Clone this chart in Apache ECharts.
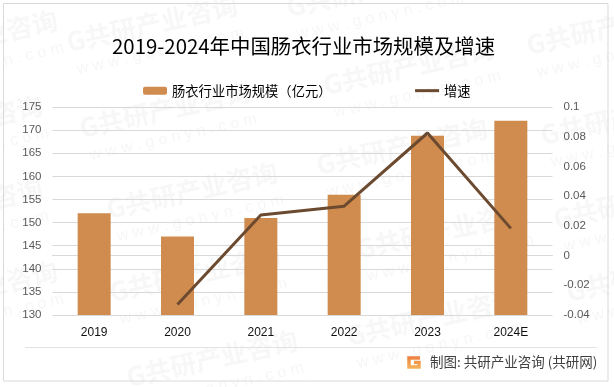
<!DOCTYPE html>
<html>
<head>
<meta charset="utf-8">
<title>2019-2024年中国肠衣行业市场规模及增速</title>
<script src="https://cdn.jsdelivr.net/npm/echarts@6/dist/echarts.min.js"></script>
<style>
html, body { margin: 0; padding: 0; background: #fff; }
#main { width: 614px; height: 387px; }
</style>
</head>
<body>
<div id="main"></div>
<script>
var categories = ["2019", "2020", "2021", "2022", "2023", "2024E"];
var sizeValues = [152, 147, 151, 156, 168.8, 172];
var growthValues = [null, -0.033, 0.0273, 0.0332, 0.0825, 0.0183];
var sizeName = "肠衣行业市场规模（亿元）";
var growthName = "增速";
var fontCn = '"Noto Sans CJK SC", sans-serif';
var fontNum = '"Liberation Sans", sans-serif';

// 水印起点
var markStarts = [
  [-110, 72], [70, 57], [290, 22], [530, 60],
  [-125, 157], [83, 143], [327, 100], [544, 150],
  [-125, 240], [110, 224], [320, 180], [557, 234],
  [-110, 323], [113, 307], [360, 264], [570, 307],
  [130, 392], [350, 351]
];

function watermark() {
  var list = [];
  markStarts.forEach(function (p) {
    list.push({
      type: "group",
      x: p[0],
      y: p[1],
      rotation: 12.5 * Math.PI / 180,
      silent: true,
      z: 50,
      children: [
        { type: "text", style: { x: 0, y: -28, text: "G共研产业咨询", fill: "rgba(110,110,110,0.055)", font: 'bold 26px ' + fontCn } },
        { type: "text", style: { x: 4, y: 6, text: "w w w . g o n y n . c o m", fill: "rgba(110,110,110,0.06)", font: '16px ' + fontNum } }
      ]
    });
  });
  return list;
}

var chart = echarts.init(document.getElementById("main"));
chart.setOption({
  animation: false,
  backgroundColor: "#fff",
  title: {
    text: "2019-2024年中国肠衣行业市场规模及增速",
    left: 107,
    top: 31,
    textStyle: { fontFamily: fontCn, fontSize: 20.4, fontWeight: "normal", color: "#000" }
  },
  legend: {
    left: 138,
    top: 79,
    itemWidth: 24,
    itemHeight: 8,
    itemGap: 82,
    textStyle: { fontFamily: fontCn, fontSize: 13.3, color: "#000" },
    data: [sizeName, { name: growthName, itemStyle: { opacity: 0 }, lineStyle: { width: 3 } }]
  },
  grid: { left: 52.5, right: 61.5, top: 107, bottom: 72 },
  xAxis: {
    type: "category",
    data: categories,
    axisTick: { show: false },
    axisLine: { lineStyle: { color: "#d9d9d9", width: 1 } },
    axisLabel: { fontFamily: fontNum, fontSize: 12, color: "#111", margin: 12 }
  },
  yAxis: [
    {
      type: "value",
      min: 130,
      max: 175,
      interval: 5,
      axisLine: { show: false },
      axisTick: { show: false },
      axisLabel: { fontFamily: fontNum, fontSize: 11.5, color: "#595959", margin: 11 },
      splitLine: { lineStyle: { color: "#d9d9d9", width: 1 } }
    },
    {
      type: "value",
      min: -0.04,
      max: 0.1,
      interval: 0.02,
      axisLine: { show: false },
      axisTick: { show: false },
      axisLabel: { fontFamily: fontNum, fontSize: 11.5, color: "#595959", margin: 11 },
      splitLine: { show: false }
    }
  ],
  series: [
    {
      name: sizeName,
      type: "bar",
      yAxisIndex: 0,
      barWidth: 33,
      itemStyle: { color: "#d08b4e" },
      data: sizeValues
    },
    {
      name: growthName,
      type: "line",
      yAxisIndex: 1,
      symbol: "none",
      connectNulls: false,
      lineStyle: { color: "#6b4a2f", width: 3 },
      itemStyle: { color: "#6b4a2f" },
      data: growthValues
    }
  ],
  graphic: watermark().concat([
    {
      type: "rect",
      silent: true,
      z: 60,
      shape: { x: 3.5, y: 3.5, width: 604.5, height: 377.5 },
      style: { fill: "none", stroke: "#d9d9d9", lineWidth: 1 }
    },
    {
      type: "line",
      silent: true,
      z: 60,
      shape: { x1: 25, y1: 347.5, x2: 597, y2: 347.5 },
      style: { stroke: "#e2e2e2", lineWidth: 1 }
    },
    {
      // 制图 logo
      type: "polyline",
      silent: true,
      z: 60,
      shape: { points: [[420, 358], [409, 358], [409, 367], [419, 367], [419, 362.5], [414, 362.5]] },
      style: {
        fill: "none",
        lineWidth: 3.5,
        stroke: new echarts.graphic.LinearGradient(0, 0, 0, 1, [
          { offset: 0, color: "#ee7a3c" },
          { offset: 1, color: "#f5b95e" }
        ])
      }
    },
    {
      type: "text",
      silent: true,
      z: 60,
      style: { x: 430, y: 362, text: "制图: 共研产业咨询 (共研网)", fill: "#404040", verticalAlign: "middle", font: '13.5px ' + fontCn }
    }
  ])
});
</script>
</body>
</html>
